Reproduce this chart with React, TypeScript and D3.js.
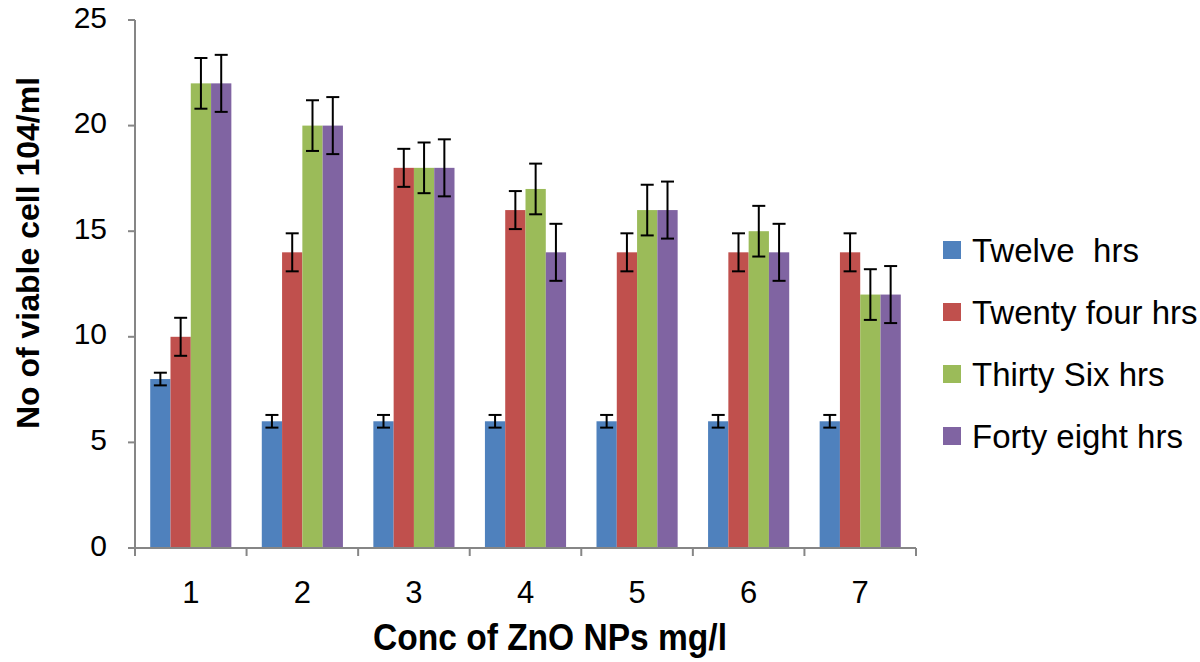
import React from "react";
import * as d3 from "d3";

const categories = ["1", "2", "3", "4", "5", "6", "7"];
const seriesNames = ["Twelve  hrs", "Twenty four hrs", "Thirty Six hrs", "Forty eight hrs"];
const colors = ["#4F81BD", "#C0504D", "#9BBB59", "#8064A2"];
const twelve = [8, 6, 6, 6, 6, 6, 6];
const twentyFour = [10, 14, 18, 16, 14, 14, 14];
const thirtySix = [22, 20, 18, 17, 16, 15, 12];
const fortyEight = [22, 20, 18, 14, 16, 14, 12];
const errTwelve = [0.3, 0.3, 0.3, 0.3, 0.3, 0.3, 0.3];
const errTwentyFour = [0.9, 0.9, 0.9, 0.9, 0.9, 0.9, 0.9];
const errThirtySix = [1.2, 1.2, 1.2, 1.2, 1.2, 1.2, 1.2];
const errFortyEight = [1.35, 1.35, 1.35, 1.35, 1.35, 1.35, 1.35];
const yTicks = [0, 5, 10, 15, 20, 25];

const values = [twelve, twentyFour, thirtySix, fortyEight];
const errors = [errTwelve, errTwentyFour, errThirtySix, errFortyEight];

export default function App() {
  const left = 135, right = 916, top = 20, bottom = 548;
  const x0 = d3.scaleBand().domain(categories).range([left, right]).paddingInner(0).paddingOuter(0);
  const inner = d3.scaleBand().domain(seriesNames).range([0, x0.bandwidth()]).paddingOuter(0.75).paddingInner(0);
  const y = d3.scaleLinear().domain([0, 25]).range([bottom, top]);
  const axisColor = "#868686";
  const font = "Arial, 'Liberation Sans', sans-serif";
  const cap = 6.5;

  return (
    <svg width={1200} height={662} style={{ position: "absolute", left: 0, top: 0, background: "#fff" }}>
      {/* bars */}
      {categories.map((c, ci) =>
        seriesNames.map((s, si) => {
          const v = values[si][ci];
          const bx = (x0(c) as number) + (inner(s) as number);
          return (
            <rect key={c + s} x={bx} y={y(v)} width={inner.bandwidth()} height={y(0) - y(v)} fill={colors[si]} />
          );
        })
      )}
      {/* axes */}
      <line x1={left} x2={left} y1={top} y2={bottom} stroke={axisColor} strokeWidth={2} />
      <line x1={left} x2={right} y1={bottom} y2={bottom} stroke={axisColor} strokeWidth={2} />
      {yTicks.map((t) => (
        <g key={t}>
          <line x1={left - 7} x2={left} y1={y(t)} y2={y(t)} stroke={axisColor} strokeWidth={2} />
          <text x={107} y={y(t) - 3} dy="0.35em" textAnchor="end" fontFamily={font} fontSize={30} fill="#000">
            {t}
          </text>
        </g>
      ))}
      {[...categories.map((c) => x0(c) as number), right].map((xx, i) => (
        <line key={i} x1={xx} x2={xx} y1={bottom} y2={bottom + 8} stroke={axisColor} strokeWidth={2} />
      ))}
      {categories.map((c) => (
        <text key={c} x={(x0(c) as number) + x0.bandwidth() / 2} y={592} dy="0.35em" textAnchor="middle" fontFamily={font} fontSize={31} fill="#000">
          {c}
        </text>
      ))}
      {/* error bars */}
      {categories.map((c, ci) =>
        seriesNames.map((s, si) => {
          const v = values[si][ci];
          const e = errors[si][ci];
          const cx = (x0(c) as number) + (inner(s) as number) + inner.bandwidth() / 2;
          return (
            <g key={"e" + c + s} stroke="#000" strokeWidth={2}>
              <line x1={cx} x2={cx} y1={y(v + e)} y2={y(v - e)} />
              <line x1={cx - cap} x2={cx + cap} y1={y(v + e)} y2={y(v + e)} />
              <line x1={cx - cap} x2={cx + cap} y1={y(v - e)} y2={y(v - e)} />
            </g>
          );
        })
      )}
      {/* axis titles */}
      <text x={550} y={637} dy="0.35em" textAnchor="middle" fontFamily="'Liberation Sans Narrow', 'Arial Narrow', Arial, sans-serif" fontWeight="bold" fontSize={36} textLength={354} lengthAdjust="spacingAndGlyphs" fill="#000">
        Conc of ZnO NPs mg/l
      </text>
      <text transform={`translate(28,253) rotate(-90)`} dy="0.35em" textAnchor="middle" fontFamily={font} fontWeight="bold" fontSize={32} fill="#000">
        No of viable cell 104/ml
      </text>
      {/* legend */}
      {seriesNames.map((s, i) => {
        const ly = 250 + i * 62;
        return (
          <g key={s}>
            <rect x={943} y={ly - 9} width={18} height={18} fill={colors[i]} />
            <text x={972} y={ly} dy="0.35em" fontFamily={font} fontSize={33} fill="#000" style={{ whiteSpace: "pre" }}>
              {s}
            </text>
          </g>
        );
      })}
    </svg>
  );
}
